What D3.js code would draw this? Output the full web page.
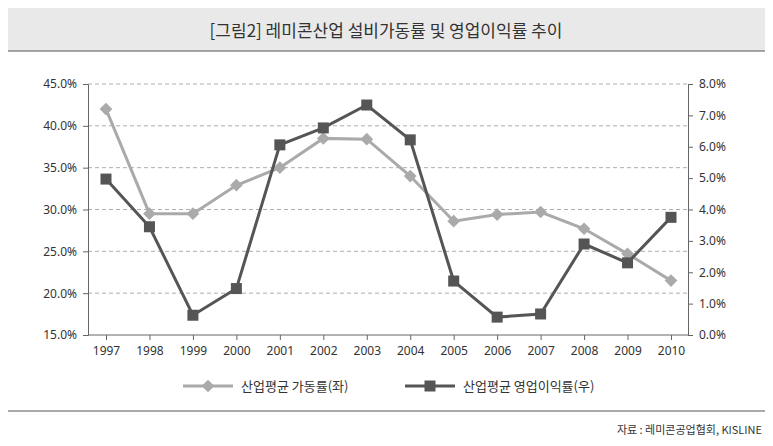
<!DOCTYPE html>
<html><head><meta charset="utf-8">
<script src="https://cdn.jsdelivr.net/npm/d3@7"></script>
<style>body{margin:0;background:#fff}svg{font-family:"Noto Sans CJK KR","Noto Sans",sans-serif}</style>
</head><body><div id="chart"></div>
<script>
const years = ["1997","1998","1999","2000","2001","2002","2003","2004","2005","2006","2007","2008","2009","2010"];
const utilRate = [42.0, 29.5, 29.5, 32.9, 35.0, 38.5, 38.4, 34.0, 28.6, 29.4, 29.7, 27.7, 24.7, 21.5];
const opMargin = [4.97, 3.45, 0.63, 1.48, 6.06, 6.6, 7.33, 6.22, 1.72, 0.57, 0.67, 2.9, 2.3, 3.75];
const leftTicks = [15, 20, 25, 30, 35, 40, 45];
const rightTicks = [0, 1, 2, 3, 4, 5, 6, 7, 8];

const W = 773, H = 446;
const svg = d3.select("#chart").append("svg").attr("width", W).attr("height", H);

// title band
svg.append("rect").attr("x", 8).attr("y", 8).attr("width", 757).attr("height", 43).attr("fill", "#e9e9e9");
svg.append("line").attr("x1", 8).attr("x2", 765).attr("y1", 51).attr("y2", 51).attr("stroke", "#555").attr("stroke-width", 1.2);
svg.append("text").attr("x", 386).attr("y", 37).attr("text-anchor", "middle")
  .attr("font-size", 17).attr("fill", "#333").text("[그림2] 레미콘산업 설비가동률 및 영업이익률 추이");

const x = d3.scalePoint().domain(years).range([106, 671]);
const yL = d3.scaleLinear().domain([15, 45]).range([335, 84]);
const yR = d3.scaleLinear().domain([0, 8]).range([335, 84]);

// grid
svg.append("g").selectAll("line").data(leftTicks.slice(1)).join("line")
  .attr("x1", 88).attr("x2", 688).attr("y1", d => yL(d)).attr("y2", d => yL(d))
  .attr("stroke", "#999").attr("stroke-dasharray", "4,3").attr("stroke-width", 0.8);

const axL = svg.append("g").attr("transform", "translate(88,0)")
  .call(d3.axisLeft(yL).tickValues(leftTicks).tickFormat(d => d.toFixed(1) + "%").tickSize(5).tickPadding(6));
const axR = svg.append("g").attr("transform", "translate(688,0)")
  .call(d3.axisRight(yR).tickValues(rightTicks).tickFormat(d => d.toFixed(1) + "%").tickSize(5).tickPadding(6));
const axB = svg.append("g").attr("transform", "translate(0,335)")
  .call(d3.axisBottom(x).tickSize(5).tickPadding(6));
axB.select(".domain").attr("d", "M88,0H688");
[axL, axR, axB].forEach(a => {
  a.selectAll("text").attr("font-size", 12).attr("fill", "#333").attr("font-family", "Noto Sans, sans-serif");
  a.selectAll("line,.domain").attr("stroke", "#666");
});

const lineL = d3.line().x((d, i) => x(years[i])).y(d => yL(d));
const lineR = d3.line().x((d, i) => x(years[i])).y(d => yR(d));

svg.append("path").attr("d", lineL(utilRate)).attr("fill", "none").attr("stroke", "#aaa").attr("stroke-width", 3);
svg.append("g").selectAll("path").data(utilRate).join("path")
  .attr("transform", (d, i) => `translate(${x(years[i])},${yL(d)}) rotate(45)`)
  .attr("d", "M-4.5,-4.5H4.5V4.5H-4.5Z").attr("fill", "#aaa");

svg.append("path").attr("d", lineR(opMargin)).attr("fill", "none").attr("stroke", "#555").attr("stroke-width", 3);
svg.append("g").selectAll("rect").data(opMargin).join("rect")
  .attr("x", (d, i) => x(years[i]) - 5.5).attr("y", d => yR(d) - 5.5)
  .attr("width", 11).attr("height", 11).attr("fill", "#555");

// legend
const lg = svg.append("g");
lg.append("line").attr("x1", 183).attr("x2", 233).attr("y1", 386).attr("y2", 386).attr("stroke", "#aaa").attr("stroke-width", 3);
lg.append("path").attr("transform", "translate(208,386) rotate(45)").attr("d", "M-4.5,-4.5H4.5V4.5H-4.5Z").attr("fill", "#aaa");
lg.append("text").attr("x", 241).attr("y", 391).attr("font-size", 13).attr("fill", "#333").text("산업평균 가동률(좌)");
lg.append("line").attr("x1", 405).attr("x2", 455).attr("y1", 386).attr("y2", 386).attr("stroke", "#555").attr("stroke-width", 3);
lg.append("rect").attr("x", 424.5).attr("y", 380.5).attr("width", 11).attr("height", 11).attr("fill", "#555");
lg.append("text").attr("x", 463).attr("y", 391).attr("font-size", 13).attr("fill", "#333").text("산업평균 영업이익률(우)");

svg.append("line").attr("x1", 8).attr("x2", 765).attr("y1", 411).attr("y2", 411).attr("stroke", "#555").attr("stroke-width", 1);
svg.append("text").attr("x", 762).attr("y", 434).attr("text-anchor", "end").attr("font-size", 11).attr("fill", "#333")
  .text("자료 : 레미콘공업협회, KISLINE");
</script></body></html>
